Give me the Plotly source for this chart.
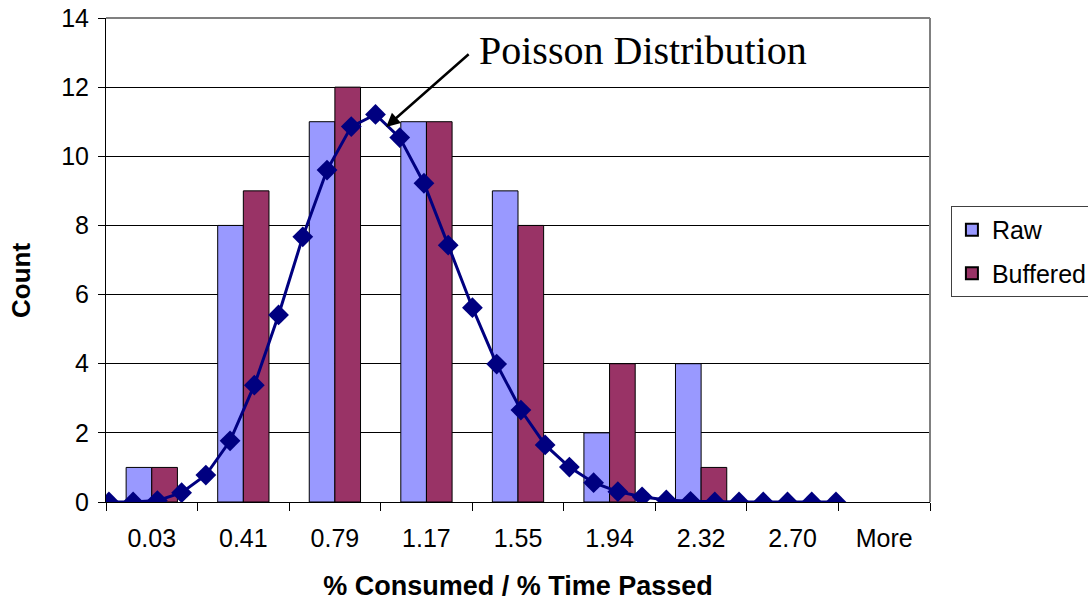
import plotly.graph_objects as go

categories = ["0.03", "0.41", "0.79", "1.17", "1.55", "1.94", "2.32", "2.70", "More"]
raw = [1, 8, 11, 11, 9, 2, 4, 0, 0]
buffered = [1, 9, 12, 11, 8, 4, 1, 0, 0]

poisson_x = [0.0, 0.1, 0.2, 0.3, 0.4, 0.5, 0.6, 0.7, 0.8, 0.9, 1.0,
             1.1, 1.2, 1.3, 1.4, 1.5, 1.6, 1.7, 1.8, 1.9, 2.0,
             2.1, 2.2, 2.3, 2.4, 2.5, 2.6, 2.7, 2.8, 2.9, 3.0]
poisson_y = [0, 0, 0.04, 0.27, 0.78, 1.77, 3.38, 5.41, 7.67, 9.60, 10.86,
             11.21, 10.54, 9.22, 7.43, 5.62, 3.99, 2.66, 1.65, 1.01, 0.56,
             0.30, 0.15, 0.06, 0.02, 0, 0, 0, 0, 0, 0]

SANS = "Arial, Liberation Sans, sans-serif"
SERIF = "Times New Roman, Liberation Serif, serif"

fig = go.Figure()
fig.add_trace(go.Bar(x=categories, y=raw, name="Raw", legendgroup="raw",
                     marker=dict(color="#9999FF",
                                 line=dict(color="#000000", width=[1 if v > 0 else 0 for v in raw]))))
fig.add_trace(go.Bar(x=categories, y=buffered, name="Buffered", legendgroup="buf",
                     marker=dict(color="#993366",
                                 line=dict(color="#000000", width=[1 if v > 0 else 0 for v in buffered]))))
fig.add_trace(go.Scatter(x=poisson_x, y=poisson_y, xaxis="x2", yaxis="y",
                         mode="lines+markers", showlegend=False,
                         line=dict(color="#000080", width=3),
                         marker=dict(symbol="diamond", size=16, color="#000080")))

fig.update_layout(
    width=1088, height=602,
    margin=dict(l=106, r=158, t=18, b=100, autoexpand=False),
    paper_bgcolor="white", plot_bgcolor="white",
    barmode="group", bargap=0.44, bargroupgap=0,
    font=dict(family=SANS, size=24, color="black"),
    xaxis=dict(
        type="category", tickson="boundaries", ticks="outside", ticklen=8,
        tickcolor="black", showline=True, linecolor="black", linewidth=1,
        showgrid=False, tickfont=dict(size=25), ticklabelstandoff=14,
        title=dict(text="<b>% Consumed / % Time Passed</b>", font=dict(size=27), standoff=25),
        range=[-0.5, 8.5], automargin=False,
    ),
    xaxis2=dict(overlaying="x", range=[-0.012, 3.388], visible=False),
    yaxis=dict(
        range=[0, 14], dtick=2, ticks="outside", ticklen=7, tickcolor="black",
        showline=True, linecolor="black", linewidth=1,
        showgrid=True, gridcolor="black", gridwidth=1,
        tickfont=dict(size=25), zeroline=False, ticklabelstandoff=4,
        automargin=False,
    ),
    legend=dict(
        xref="container", yref="container",
        x=0.874, y=0.658, xanchor="left", yanchor="top",
        bordercolor="#404040", borderwidth=1, bgcolor="white",
        font=dict(size=25), tracegroupgap=8, itemsizing="constant",
    ),
)

fig.add_shape(type="line", xref="paper", yref="paper", x0=0, x1=1, y0=1, y1=1,
              line=dict(color="#808080", width=2), layer="above")
fig.add_shape(type="line", xref="paper", yref="paper", x0=1, x1=1, y0=0, y1=1,
              line=dict(color="#808080", width=2), layer="above")

fig.add_annotation(text="<b>Count</b>", xref="paper", yref="paper",
                   x=-0.1032, y=0.4587, xanchor="center", yanchor="middle",
                   textangle=-90, showarrow=False, font=dict(size=26, color="black"))
fig.add_annotation(text="Poisson Distribution", xref="paper", yref="paper",
                   x=0.4502, y=0.932, xanchor="left", yanchor="middle",
                   showarrow=False, font=dict(family=SERIF, size=40, color="black"))
fig.add_annotation(text="", xref="x2", yref="y", x=1.144, y=10.85,
                   ax=84, ay=-74, showarrow=True, arrowhead=2, arrowsize=1.1,
                   arrowwidth=2.5, arrowcolor="black")

fig.write_html("out.html")
